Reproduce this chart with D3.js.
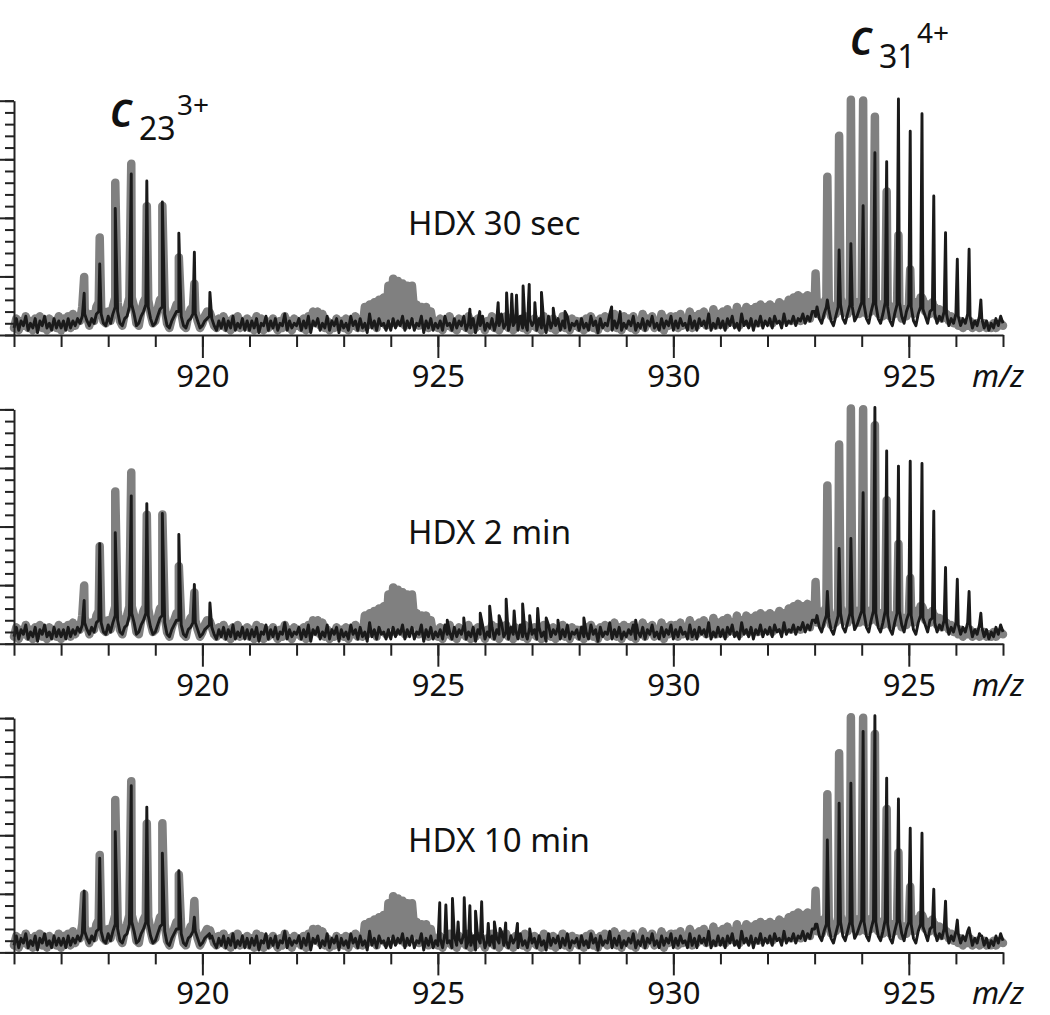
<!DOCTYPE html>
<html>
<head>
<meta charset="utf-8">
<script src="https://cdn.jsdelivr.net/npm/d3@7"></script>
<style>
body { margin: 0; background: #fff; }
text { font-family: "Noto Sans", "Open Sans", sans-serif; fill: #111; }
</style>
</head>
<body>
<svg id="chart" width="1050" height="1015"></svg>
<script>
'use strict';

let panelLabels = ["HDX 30 sec", "HDX 2 min", "HDX 10 min"];
let majorTicks = [920, 925, 930, 935];
let tickLabels = ["920", "925", "930", "925"];

// isotope peak positions (axis units)
let c23Mz = [917.49, 917.82, 918.15, 918.49, 918.82, 919.15, 919.50, 919.83, 920.16];
let c31Mz = [933.02, 933.27, 933.52, 933.77, 934.03, 934.28, 934.53, 934.78, 935.03, 935.28, 935.53, 935.78, 936.03, 936.28, 936.53];

// undeuterated reference (gray), same in every panel
let grayC23 = [24.8, 41.6, 65, 73.1, 55, 55.1, 33.1, 21.9, 9.5];
let grayC31 = [26.3, 67.5, 85, 100.4, 100.1, 93.2, 61.2, 42.6, 28, 16, 11, 8, null, null, null];

// HDX traces (black)
let black30sC23 = [17.8, 30.3, 54, 68.7, 65.7, 56.8, 43.4, 35.3, 18.2];
let black2mC23 = [18.5, 42.7, 47.4, 63.1, 59.8, 55.6, 46.6, 25.3, 17.4];
let black10mC23 = [26.2, 40.2, 51.5, 71.1, 62, 42.3, 34.9, 15, 6];

let black30sC31 = [8, 15, 36.3, 39, 55.2, 77.8, 74, 100.7, 87, 94.4, 59.3, 43.7, 32.3, 36.6, 15];
let black2mC31 = [9, 22.3, 40.6, 44.9, 64.4, 100.8, 82.3, 75.8, 77.9, 76.9, 56.5, 32.5, 27.5, 22.3, 13];
let black10mC31 = [12, 48, 63.7, 72.2, 94.3, 101, 74.4, 65.5, 53, 50.9, 27, 21.9, 13.8, 10.5, 7];

let mid30sMz = [925.68, 925.89, 926.28, 926.46, 926.57, 926.67, 926.81, 926.94, 927.06, 927.20, 927.45, 927.70, 928.69, 928.87];
let mid30s = [11, 10, 13.8, 18, 17.4, 17, 20.9, 21.6, 13.8, 18.2, 11.4, 10, 12, 10];
let mid2mMz = [925.20, 925.55, 925.90, 926.10, 926.30, 926.45, 926.62, 926.80, 926.95, 927.12, 927.30, 927.55, 928.10, 929.20];
let mid2m = [10, 11, 13, 16, 12, 19, 14, 17, 12, 15, 11, 10, 11, 10];
let mid10mMz = [925.04, 925.17, 925.31, 925.43, 925.56, 925.68, 925.80, 925.93, 926.07, 926.20, 926.32, 926.44, 926.69, 926.95];
let mid10m = [21.2, 20.2, 23, 13, 23.3, 19.9, 17.6, 21.6, 12.4, 13, 10.2, 12.6, 12.4, 10];

// baseline read every 0.05 unit from 916 to 937 (one row per unit)
let noiseStart = 916, noiseStep = 0.05;
let blackNoise = [
    3,7,2,6,4,8,2,5,3,7,1,6,4,8,3,5,2,7,3,6,
    3,6,2,7,3,6,4,7,5,8,9,6,4,7,5,9,10,9,5,4,
    8,5,9,12,10,5,4,7,8,12,13,9,4,5,8,10,13,12,7,4,
    5,8,11,12,9,4,3,6,8,10,10,8,4,3,6,7,9,9,6,3,
    4,6,7,8,7,4,2,6,3,7,2,6,3,8,2,5,3,7,2,6,
    2,6,3,7,1,5,4,8,2,6,3,7,2,5,4,9,2,6,3,5,
    4,7,2,6,3,8,1,6,4,7,2,5,3,8,2,6,4,7,1,6,
    3,5,2,8,4,6,2,7,3,5,1,9,3,6,2,7,4,5,2,6,
    2,7,3,6,4,8,2,6,3,7,2,5,4,8,1,6,3,7,2,5,
    3,6,2,8,4,5,2,7,3,6,4,8,2,5,3,7,1,6,4,8,
    2,5,3,7,2,6,4,9,3,5,2,7,4,6,2,8,3,5,2,7,
    4,6,2,7,3,5,1,8,3,6,4,7,2,6,3,8,2,5,4,6,
    2,7,3,5,2,8,4,6,1,7,3,5,4,9,2,6,3,7,2,5,
    3,6,4,8,2,5,3,7,2,6,4,8,3,5,2,7,3,6,4,8,
    2,6,3,7,4,5,2,8,3,6,2,7,4,6,3,9,2,5,3,7,
    3,6,2,7,4,8,3,5,2,9,4,6,3,7,2,6,4,8,3,6,
    4,7,3,8,5,6,3,9,4,6,5,8,4,7,6,9,5,8,6,10,
    10,12,7,5,9,12,11,6,4,8,12,13,7,5,9,13,12,6,8,11,
    14,13,7,5,10,14,13,7,5,9,14,12,6,4,9,13,14,8,5,10,
    13,12,6,4,9,12,11,8,5,10,11,9,5,8,6,10,9,4,7,5,
    9,8,4,7,5,9,8,3,6,4,8,7,3,6,2,5,3,7,4,8,
    5
];
let grayNoise = [
    3,7,2,6,4,8,3,6,2,7,5,8,3,6,2,7,4,6,3,8,
    2,7,4,8,3,9,4,8,6,12,11,8,4,9,6,12,14,12,6,5,
    10,6,12,16,14,6,4,9,12,16,16,12,5,4,10,14,16,15,9,5,
    6,11,15,16,12,5,3,7,10,13,13,10,4,3,8,11,12,10,6,3,
    5,8,10,9,7,4,3,7,4,8,3,6,2,7,5,8,3,6,4,7,
    3,6,2,8,4,7,2,6,3,5,7,4,2,6,3,8,4,6,2,7,
    4,6,3,7,2,8,6,10,5,10,4,9,3,6,2,5,3,7,4,6,
    3,7,2,6,4,8,3,6,3,12,4,13,5,14,3,15,6,16,4,21,
    8,24,5,23,7,22,4,21,6,21,9,13,4,12,6,12,3,10,4,6,
    3,7,2,6,4,8,3,5,2,7,4,6,3,8,2,6,3,7,4,5,
    2,6,4,8,3,7,2,5,4,8,3,6,2,7,4,6,3,8,2,6,
    4,7,3,6,2,8,4,6,3,7,2,5,4,8,3,6,2,7,4,6,
    3,6,2,7,4,8,3,6,2,7,5,8,3,6,4,9,3,7,2,8,
    4,7,3,8,2,6,4,9,3,7,5,8,3,6,4,9,2,7,4,8,
    5,8,3,9,4,7,5,10,3,8,4,9,6,10,4,8,5,11,4,9,
    5,10,4,11,6,9,5,12,4,10,6,12,5,11,7,12,5,13,6,12,
    7,13,5,12,8,14,6,13,7,15,6,16,8,17,6,16,9,17,7,16,
    12,9,14,8,13,16,14,8,12,9,15,16,10,13,9,16,15,10,14,9,
    16,15,9,14,10,16,15,9,13,8,14,14,8,12,9,13,12,7,11,8,
    12,13,9,14,12,16,15,10,13,9,14,12,8,11,7,10,9,6,8,5,
    7,4,6,3,5,4,6,3,4,5,3,4,5,3,4,3,5,3,4,5,
    4
];

let blackC23 = [black30sC23, black2mC23, black10mC23];
let blackC31 = [black30sC31, black2mC31, black10mC31];
let midMz = [mid30sMz, mid2mMz, mid10mMz];
let midVals = [mid30s, mid2m, mid10m];

function buildTrace(noise, peakSets) {
    let pts = noise.map((v, i) => ({mz: noiseStart + i * noiseStep, v: v}));
    for (let [mzs, vals] of peakSets) {
        mzs.forEach((m, i) => {
            if (vals[i] != null) pts.push({mz: m, v: vals[i]});
        });
    }
    pts.sort((a, b) => a.mz - b.mz);
    return pts;
}

let svg = d3.select("#chart");
let x = d3.scaleLinear().domain([916, 937]).range([14, 1003]);
let grayTrace = buildTrace(grayNoise, [[c23Mz, grayC23], [c31Mz, grayC31]]);

panelLabels.forEach((label, p) => {
    let base = 335 + p * 308.7;
    let y = d3.scaleLinear().domain([0, 100]).range([base, base - 234.3]);
    let g = svg.append("g");

    let line = d3.line().x(d => x(d.mz)).y(d => y(d.v));

    g.append("path")
        .attr("d", line(grayTrace))
        .attr("fill", "none")
        .attr("stroke", "#808080")
        .attr("stroke-width", 8.5)
        .attr("stroke-linejoin", "round")
        .attr("stroke-linecap", "round");

    let blackTrace = buildTrace(blackNoise, [[c23Mz, blackC23[p]], [c31Mz, blackC31[p]], [midMz[p], midVals[p]]]);
    g.append("path")
        .attr("d", line(blackTrace))
        .attr("fill", "none")
        .attr("stroke", "#1a1a1a")
        .attr("stroke-width", 2.9)
        .attr("stroke-linejoin", "round");

    // x axis: minor + major ticks
    g.append("g")
        .attr("transform", "translate(0," + base + ")")
        .call(d3.axisBottom(x).tickValues(d3.range(916, 938)).tickSize(12).tickSizeOuter(0).tickFormat(""));
    let xMajor = g.append("g")
        .attr("transform", "translate(0," + base + ")")
        .call(d3.axisBottom(x).tickValues(majorTicks).tickSize(23).tickSizeOuter(0).tickPadding(7)
            .tickFormat((d, i) => tickLabels[i]));
    xMajor.select(".domain").remove();
    xMajor.selectAll("text").style("font-size", "31px").attr("fill", "#111");

    // y axis
    g.append("g")
        .attr("transform", "translate(" + x(916) + ",0)")
        .call(d3.axisLeft(y).tickValues(d3.range(0, 101, 5)).tickSize(9).tickSizeOuter(0).tickFormat(""));
    let yMajor = g.append("g")
        .attr("transform", "translate(" + x(916) + ",0)")
        .call(d3.axisLeft(y).tickValues([0, 25, 50, 75, 100]).tickSize(15).tickSizeOuter(0).tickFormat(""));
    yMajor.select(".domain").remove();

    g.selectAll(".domain, .tick line")
        .attr("stroke", "#222")
        .attr("stroke-width", 2);

    g.append("text")
        .attr("x", 972)
        .attr("y", base + 52)
        .style("font-size", "31px")
        .style("font-style", "italic")
        .text("m/z");

    g.append("text")
        .attr("x", 408)
        .attr("y", base - 100)
        .style("font-size", "33px")
        .text(label);
});

// ion labels (top panel)
function ionLabel(cx, cy, sub, sup) {
    svg.append("text").attr("x", cx).attr("y", cy)
        .style("font-family", "'Open Sans', 'Noto Sans', sans-serif")
        .style("font-size", "48px").style("font-style", "italic").style("font-weight", "600").text("c");
    svg.append("text").attr("x", cx + 29).attr("y", cy + 13)
        .style("font-size", "32px").text(sub);
    svg.append("text").attr("x", cx + 67).attr("y", cy - 12)
        .style("font-size", "28px").text(sup);
}
ionLabel(110, 127, "23", "3+");
ionLabel(850, 55, "31", "4+");
</script>
</body>
</html>
